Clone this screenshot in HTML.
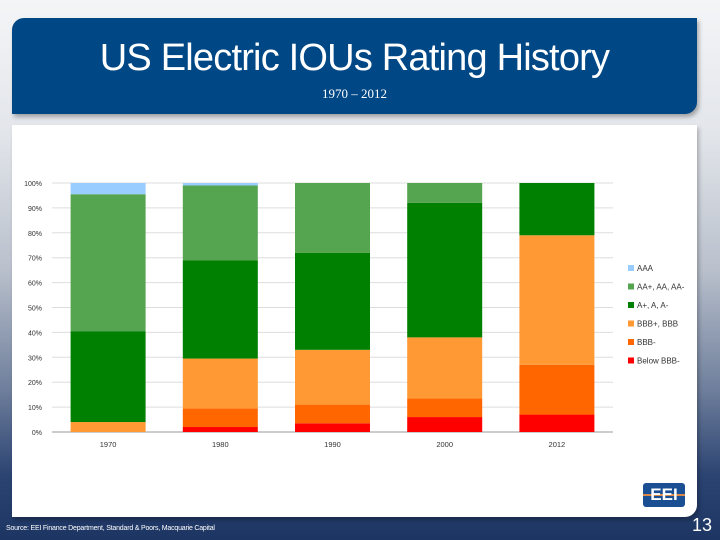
<!DOCTYPE html>
<html><head><meta charset="utf-8"><style>
body{margin:0;width:720px;height:540px;overflow:hidden;font-family:"Liberation Sans",sans-serif;
background:linear-gradient(180deg,#f4f5f7 0%,#e2e5ea 25%,#b9c0cc 50%,#6f7f9c 72%,#2c4472 88%,#1c3563 100%);position:relative}
#header{position:absolute;left:12px;top:18px;width:685px;height:96px;background:#004785;border-radius:12px 0 12px 0;box-shadow:2px 3px 4px rgba(0,0,0,.3);color:#fff;text-align:center}
#title{position:absolute;top:19px;left:0;width:100%;font-size:38px;letter-spacing:-0.8px}
#sub{position:absolute;left:0;width:100%;font-size:13px;font-family:"Liberation Serif",serif;top:68px}
#panel{position:absolute;left:12px;top:125px;width:685px;height:392px;background:#fff;border-radius:0 0 12px 0;box-shadow:2px 3px 4px rgba(0,0,0,.25)}
#chart{position:absolute;left:0;top:0}
#logo{position:absolute;left:643px;top:483px;width:42px;height:24px;background:#1a4f93;border-radius:3px;color:#fff;font-weight:bold;font-size:17px;line-height:24px;text-align:center}
#logo:after{content:"";position:absolute;left:0;right:0;top:11px;height:2px;background:#d9884a;z-index:0}
#logo span{position:relative;z-index:1}
#src{position:absolute;left:6px;top:525px;font-size:7px;color:#fff;letter-spacing:-0.2px}
#pg{position:absolute;left:692px;top:515px;font-size:18px;color:#fff}
</style></head><body>
<div id="header">
<div id="title">US Electric IOUs Rating History</div>
<div id="sub">1970 – 2012</div>
</div>
<div id="panel"></div>
<svg id="chart" width="720" height="540"></svg>
<div id="logo"><span>EEI</span></div>
<div id="src">Source: EEI Finance Department, Standard &amp; Poors, Macquarie Capital</div>
<div id="pg">13</div>
<script>
const categories=["1970","1980","1990","2000","2012"];
const seriesNames=["Below BBB-","BBB-","BBB+, BBB","A+, A, A-","AA+, AA, AA-","AAA"];
const belowBBBm=[0,2,3.5,6,7];
const bbbMinus=[0,7.5,7.5,7.5,20];
const bbb=[4,20,22,24.5,52];
const singleA=[36.5,39.5,39,54,21];
const doubleA=[55,30,28,8,0];
const aaa=[4.5,1,0,0,0];
const yTicks=[0,10,20,30,40,50,60,70,80,90,100];
const colors=["#ff0000","#ff6600","#ff9933","#008000","#55a44f","#99ccff"];
const series=[belowBBBm,bbbMinus,bbb,singleA,doubleA,aaa];
const svg=document.getElementById('chart');
const NS="http://www.w3.org/2000/svg";
const X0=52,X1=613,Y0=432,Y1=183;
const step=(X1-X0)/categories.length, bw=75;
const y=v=>Y0-(v/100)*(Y0-Y1);
const xc=i=>X0+step*(i+0.5);
function mk(t,a){const e=document.createElementNS(NS,t);for(const k in a)e.setAttribute(k,a[k]);svg.appendChild(e);return e;}
yTicks.forEach(t=>{
 const l=mk('line',{x1:X0,x2:X1,y1:y(t),y2:y(t),stroke:t===0?'#999':'#ddd','stroke-width':1});
 
 
 const tx=mk('text',{x:X0-10,y:y(t)+3,'text-anchor':'end','font-size':7,fill:'#333'});
 tx.textContent=t+'%';
 
 
});
categories.forEach((c,i)=>{
 let cum=0;
 series.forEach((s,j)=>{
  const v=s[i];if(v<=0){return;}
  const r=mk('rect',{x:xc(i)-bw/2,y:y(cum+v),width:bw,height:y(cum)-y(cum+v),fill:colors[j]});
  
  
  cum+=v;
 });
 const tx=mk('text',{x:xc(i),y:Y0+15,'text-anchor':'middle','font-size':7.5,fill:'#333'});
 tx.textContent=c;
 
 
});
for(let j=seriesNames.length-1;j>=0;j--){
 const k=seriesNames.length-1-j, ly=265+k*18.5;
 const r=mk('rect',{x:628,y:ly,width:6,height:6,fill:colors[j]});
 
 
 const tx=mk('text',{x:637,y:ly+6,'font-size':8,fill:'#333'});
 tx.textContent=seriesNames[j];
 
 
}
</script>
</body></html>
